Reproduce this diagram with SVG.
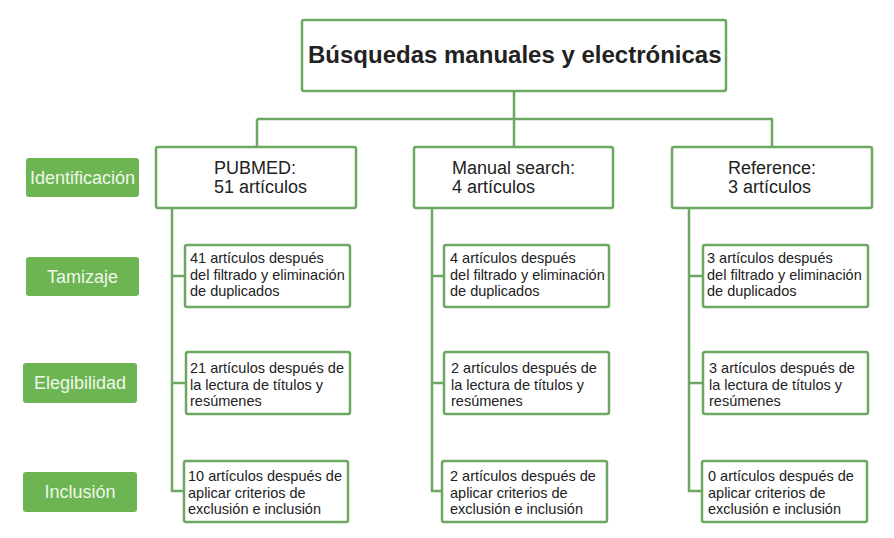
<svg xmlns="http://www.w3.org/2000/svg" width="894" height="538" viewBox="0 0 894 538">
<style>
.box{fill:#ffffff;stroke:#6da862;stroke-width:2.5}
.lab{fill:#6db553}
.line{fill:none;stroke:#6da862;stroke-width:2.5}
.t{font-family:"Liberation Sans",Arial,sans-serif;fill:#222222}
.title{font-size:24px;font-weight:bold}
.h{font-size:18px}
.s{font-size:14.5px}
.lt{font-family:"Liberation Sans",Arial,sans-serif;font-size:18px;fill:#eef7e8;text-anchor:middle}
</style>
<rect width="894" height="538" fill="#ffffff"/>
<g id="connectors">
<path class="line" d="M514 91V119M257 119H773M257 119V147M514 119V147M772 119V147"/>
<path class="line" d="M172 208V491H184M172 276H185M172 383H186"/>
<path class="line" d="M432 208V491H442M432 276H444M432 383H444"/>
<path class="line" d="M689 208V491H702M689 276H703M689 383H703"/>
</g>
<g id="title"><rect class="box" x="302" y="20" width="424" height="71" rx="2"/><text class="t title" x="308" y="63">Búsquedas manuales y electrónicas</text></g>
<g id="lab-identificacion"><rect class="lab" x="26" y="158" width="113" height="39" rx="3"/><text class="lt" x="82.5" y="184">Identificación</text></g>
<g id="lab-tamizaje"><rect class="lab" x="26" y="257" width="113" height="39" rx="3"/><text class="lt" x="82.5" y="283">Tamizaje</text></g>
<g id="lab-elegibilidad"><rect class="lab" x="23" y="363" width="114" height="40" rx="3"/><text class="lt" x="80" y="389">Elegibilidad</text></g>
<g id="lab-inclusion"><rect class="lab" x="23" y="472" width="114" height="40" rx="3"/><text class="lt" x="80" y="498">Inclusión</text></g>
<g id="pubmed"><rect class="box" x="156" y="147" width="200" height="61" rx="2"/><text class="t h" x="214" y="174">PUBMED:</text><text class="t h" x="214" y="193">51 artículos</text></g>
<g id="manual"><rect class="box" x="414" y="147" width="199" height="61" rx="2"/><text class="t h" x="452" y="174">Manual search:</text><text class="t h" x="452" y="193">4 artículos</text></g>
<g id="reference"><rect class="box" x="672" y="147" width="200" height="61" rx="2"/><text class="t h" x="728" y="174">Reference:</text><text class="t h" x="728" y="193">3 artículos</text></g>
<g id="p2"><rect class="box" x="185" y="245" width="165" height="62" rx="2"/><text class="t s" x="190"><tspan x="190" y="263">41 artículos después</tspan><tspan x="190" y="279.5">del filtrado y eliminación</tspan><tspan x="190" y="296">de duplicados</tspan></text></g>
<g id="p3"><rect class="box" x="186" y="352" width="164" height="62" rx="2"/><text class="t s"><tspan x="190" y="373">21 artículos después de</tspan><tspan x="190" y="389.5">la lectura de títulos y</tspan><tspan x="190" y="406">resúmenes</tspan></text></g>
<g id="p4"><rect class="box" x="184" y="461" width="164" height="61" rx="2"/><text class="t s"><tspan x="188" y="481">10 artículos después de</tspan><tspan x="188" y="497.5">aplicar criterios de</tspan><tspan x="188" y="514">exclusión e inclusión</tspan></text></g>
<g id="m2"><rect class="box" x="444" y="245" width="165" height="62" rx="2"/><text class="t s"><tspan x="450" y="263">4 artículos después</tspan><tspan x="450" y="279.5">del filtrado y eliminación</tspan><tspan x="450" y="296">de duplicados</tspan></text></g>
<g id="m3"><rect class="box" x="444" y="352" width="165" height="62" rx="2"/><text class="t s"><tspan x="451" y="373">2 artículos después de</tspan><tspan x="451" y="389.5">la lectura de títulos y</tspan><tspan x="451" y="406">resúmenes</tspan></text></g>
<g id="m4"><rect class="box" x="442" y="461" width="165" height="61" rx="2"/><text class="t s"><tspan x="450" y="481">2 artículos después de</tspan><tspan x="450" y="497.5">aplicar criterios de</tspan><tspan x="450" y="514">exclusión e inclusión</tspan></text></g>
<g id="r2"><rect class="box" x="703" y="245" width="165" height="62" rx="2"/><text class="t s"><tspan x="707" y="263">3 artículos después</tspan><tspan x="707" y="279.5">del filtrado y eliminación</tspan><tspan x="707" y="296">de duplicados</tspan></text></g>
<g id="r3"><rect class="box" x="703" y="352" width="165" height="62" rx="2"/><text class="t s"><tspan x="709" y="373">3 artículos después de</tspan><tspan x="709" y="389.5">la lectura de títulos y</tspan><tspan x="709" y="406">resúmenes</tspan></text></g>
<g id="r4"><rect class="box" x="702" y="461" width="165" height="61" rx="2"/><text class="t s"><tspan x="708" y="481">0 artículos después de</tspan><tspan x="708" y="497.5">aplicar criterios de</tspan><tspan x="708" y="514">exclusión e inclusión</tspan></text></g>
</svg>
